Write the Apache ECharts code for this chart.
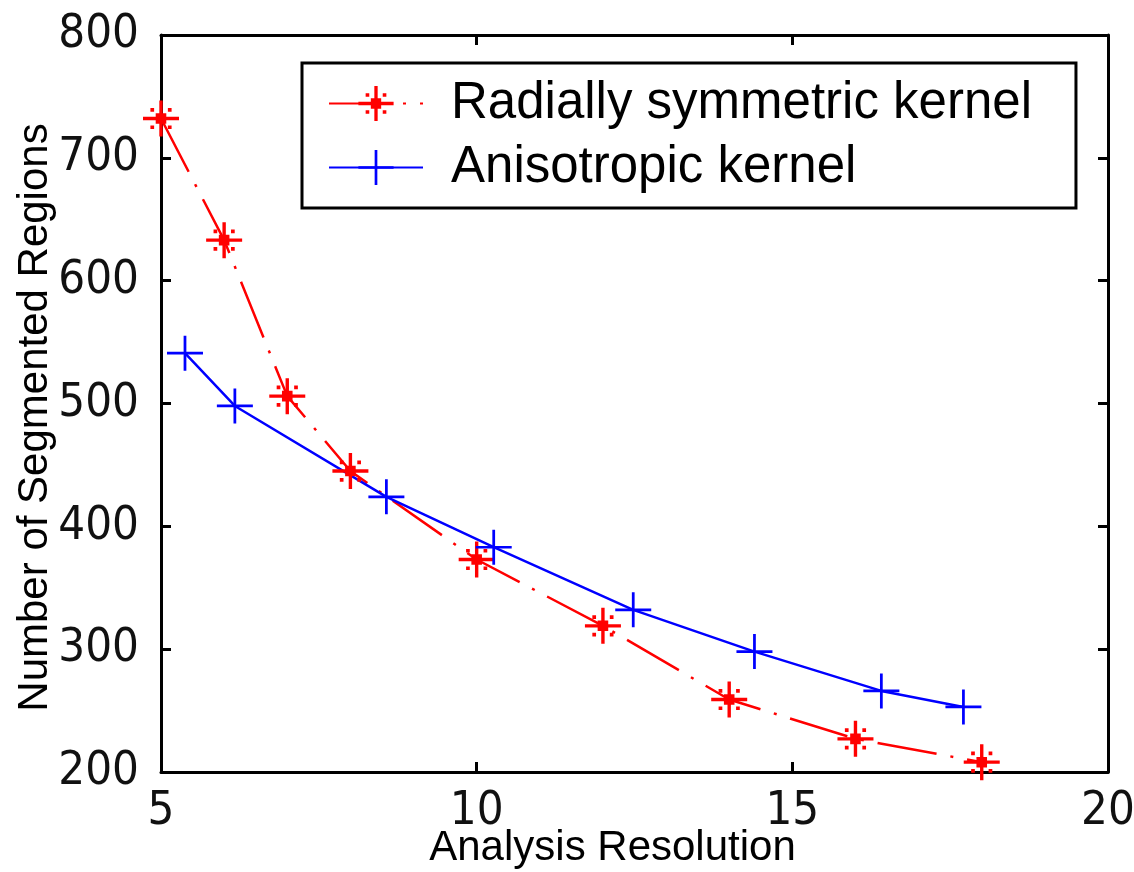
<!DOCTYPE html>
<html>
<head>
<meta charset="utf-8">
<script src="https://cdn.jsdelivr.net/npm/echarts@6/dist/echarts.min.js"></script>
<style>
  html, body { margin: 0; padding: 0; background: #fff; }
  #chart { width: 1134px; height: 872px; }
</style>
</head>
<body>
<div id="chart"></div>
<script>
// values
var radialX = [5, 6, 7, 8, 10, 12, 14, 16, 18];
var radialY = [732, 633, 506, 445, 373, 319, 259, 227, 208];
var anisoX = [5.38, 6.17, 8.57, 10.27, 12.48, 14.4, 16.41, 17.71];
var anisoY = [541, 498, 424, 383, 332, 298, 266, 253];
var seriesNames = ['Radially symmetric kernel', 'Anisotropic kernel'];

var narrow = "'Liberation Sans Narrow', 'DejaVu Sans Condensed', 'Liberation Sans', Arial, sans-serif";
var regular = "'Liberation Sans', Arial, sans-serif";

// marker shapes, built as filled bars so they render like the matlab ones
var starPath = 'path://M-17,-1.6 h34 v3.2 h-34 z M-1.6,-17 h3.2 v34 h-3.2 z M-5,-5 h10 v10 h-10 z ' +
    'M-10,-10 h3.5 v3.5 h-3.5 z M6.5,-10 h3.5 v3.5 h-3.5 z M-10,6.5 h3.5 v3.5 h-3.5 z M6.5,6.5 h3.5 v3.5 h-3.5 z';
var plusPath = 'path://M-1.3,-17 h2.6 v34 h-2.6 z M-17,-1.3 h34 v2.6 h-34 z';

function pairs(xs, ys) {
    var out = [];
    for (var i = 0; i < xs.length; i++) out.push([xs[i], ys[i]]);
    return out;
}

var axisLine = {show: true, lineStyle: {color: '#000', width: 3}};
var axisTick = {show: true, inside: true, length: 10, lineStyle: {color: '#000', width: 3}};

var option = {
    backgroundColor: '#fff',
    animation: false,
    grid: {left: 161, right: 26, top: 35, bottom: 100, containLabel: false, outerBoundsMode: 'none'},
    legend: {
        orient: 'vertical',
        left: 302,
        top: 63,
        padding: [15, 44, 15, 26],
        itemWidth: 94,
        itemHeight: 44,
        itemGap: 13,
        borderColor: '#000',
        borderWidth: 3,
        backgroundColor: '#fff',
        textStyle: {fontFamily: regular, fontSize: 51, color: '#000', lineHeight: 50, padding: [0, 0, 0, 23]},
        data: seriesNames
    },
    xAxis: [{
        type: 'value', min: 5, max: 20, interval: 5,
        name: 'Analysis Resolution', nameLocation: 'middle', nameGap: 55, nameMoveOverlap: false,
        nameTextStyle: {fontFamily: regular, fontSize: 42, color: '#000', padding: [0, 44, 0, 0]},
        axisLine: axisLine, axisTick: axisTick, splitLine: {show: false},
        axisLabel: {fontFamily: narrow, fontSize: 47, color: '#111', margin: 16}
    }, {
        type: 'value', position: 'top', min: 5, max: 20, interval: 5,
        axisLine: axisLine, axisTick: axisTick, splitLine: {show: false},
        axisLabel: {show: false}
    }],
    yAxis: [{
        type: 'value', min: 200, max: 800, interval: 100,
        name: 'Number of Segmented Regions', nameLocation: 'middle', nameGap: 105, nameRotate: 90,
        nameMoveOverlap: false,
        nameTextStyle: {fontFamily: regular, fontSize: 42, color: '#000', padding: [0, 28, 0, 0]},
        axisLine: axisLine, axisTick: axisTick, splitLine: {show: false},
        axisLabel: {fontFamily: narrow, fontSize: 47, color: '#111', margin: 22}
    }, {
        type: 'value', position: 'right', min: 200, max: 800, interval: 100,
        axisLine: axisLine, axisTick: axisTick, splitLine: {show: false},
        axisLabel: {show: false}
    }],
    series: [{
        name: seriesNames[0],
        type: 'line',
        data: pairs(radialX, radialY),
        symbol: starPath,
        symbolSize: 36,
        showAllSymbol: true,
        color: '#ff0000',
        itemStyle: {color: '#ff0000'},
        lineStyle: {color: '#ff0000', width: 2.5, type: [60, 14, 3, 14]}
    }, {
        name: seriesNames[1],
        type: 'line',
        data: pairs(anisoX, anisoY),
        symbol: plusPath,
        symbolSize: [36, 35],
        showAllSymbol: true,
        color: '#0000ff',
        itemStyle: {color: '#0000ff'},
        lineStyle: {color: '#0000ff', width: 2.5}
    }]
};

var chart = echarts.init(document.getElementById('chart'));
chart.setOption(option);
</script>
</body>
</html>
